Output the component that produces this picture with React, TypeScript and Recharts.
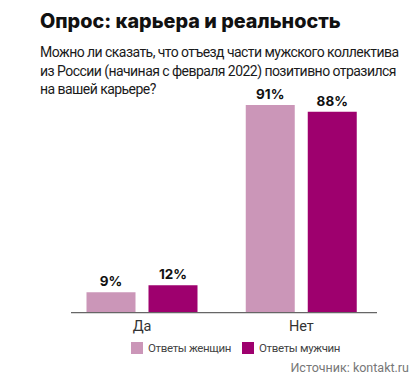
import React from 'react';
import { BarChart, Bar, XAxis, YAxis, LabelList, Legend } from 'recharts';

const categories = ['Да', 'Нет'];
const women = [9, 91];
const men = [12, 88];
const seriesNames = ['Ответы женщин', 'Ответы мужчин'];

const data = categories.map((c, i) => ({ name: c, women: women[i], men: men[i] }));

const WOMEN_COLOR = '#cb96b8';
const MEN_COLOR = '#9e006e';

const LegendContent = (props: any) => {
  const { payload } = props;
  return (
    <div style={{ display: 'flex', alignItems: 'center', fontFamily: 'Roboto, sans-serif', fontSize: 11.5, letterSpacing: -0.35, color: '#444' }}>
      {payload.map((p: any, i: number) => (
        <div key={i} style={{ display: 'flex', alignItems: 'center', marginRight: i === 0 ? 11 : 0 }}>
          <div style={{ width: 12, height: 12, background: p.color, marginRight: 5 }} />
          <span>{p.value}</span>
        </div>
      ))}
    </div>
  );
};

export default function App() {
  return (
    <div style={{ position: 'absolute', left: 0, top: 0, width: 418, height: 378, background: '#fff', overflow: 'hidden' }}>
      <div style={{ position: 'absolute', left: 40, top: 9, fontFamily: 'Inter, sans-serif', fontWeight: 800, fontSize: 19.8, color: '#111', whiteSpace: 'nowrap', letterSpacing: 0 }}>
        Опрос: карьера и реальность
      </div>
      <div style={{ position: 'absolute', left: 40, top: 43, fontFamily: 'Roboto, sans-serif', fontSize: 14, lineHeight: '18.5px', color: '#1a1a1a', letterSpacing: -0.55, whiteSpace: 'nowrap' }}>
        Можно ли сказать, что отъезд части мужского коллектива<br />
        из России (начиная с февраля 2022) позитивно отразился<br />
        на вашей карьере?
      </div>
      <div style={{ position: 'absolute', left: 0, top: 0 }}>
        <BarChart
          width={418}
          height={378}
          data={data}
          margin={{ top: 84.4, right: 41, bottom: 35.3, left: 71 }}
          barCategoryGap={24}
          barGap={13}
        >
          <XAxis
            dataKey="name"
            height={30}
            padding={{ left: -8.5, right: -4 }}
            axisLine={{ stroke: '#666', strokeWidth: 1.3 }}
            tickLine={false}
            tick={{ fill: '#333', fontSize: 14.5, fontFamily: 'Roboto, sans-serif' }}
            dy={0}
          />
          <YAxis hide domain={[0, 100]} />
          <Legend
            verticalAlign="middle"
            align="center"
            layout="horizontal"
            content={<LegendContent />}
            wrapperStyle={{ left: 131, top: 341, width: 250 }}
          />
          <Bar dataKey="women" name={seriesNames[0]} fill={WOMEN_COLOR} isAnimationActive={false}>
            <LabelList dataKey="women" position="top" offset={6} formatter={(v: any) => `${v}%`} style={{ fill: '#111', fontWeight: 700, fontSize: 13.5, fontFamily: 'Inter, sans-serif' }} />
          </Bar>
          <Bar dataKey="men" name={seriesNames[1]} fill={MEN_COLOR} isAnimationActive={false}>
            <LabelList dataKey="men" position="top" offset={6} formatter={(v: any) => `${v}%`} style={{ fill: '#111', fontWeight: 700, fontSize: 13.5, fontFamily: 'Inter, sans-serif' }} />
          </Bar>
        </BarChart>
      </div>
      <div style={{ position: 'absolute', right: 9, top: 360, fontFamily: 'Roboto, sans-serif', fontSize: 12.5, color: '#777', whiteSpace: 'nowrap' }}>
        Источник: kontakt.ru
      </div>
    </div>
  );
}
